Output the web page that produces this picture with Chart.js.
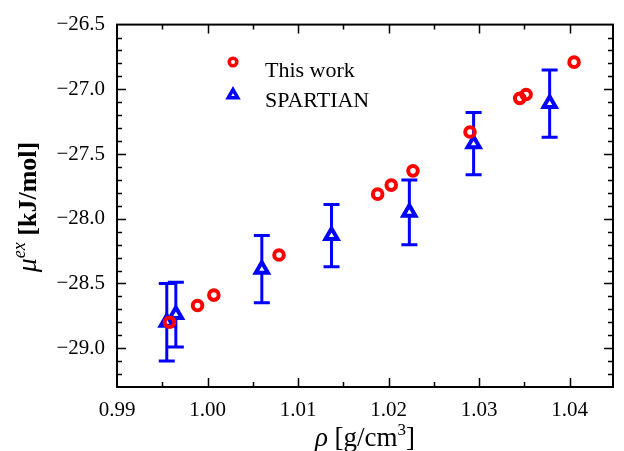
<!DOCTYPE html>
<html><head><meta charset="utf-8">
<script src="https://cdn.jsdelivr.net/npm/chart.js@4/dist/chart.umd.min.js"></script>
<style>html,body{margin:0;padding:0;background:#fff}#wrap{width:624px;height:451px;position:relative}</style>
</head><body><div id="wrap"><canvas id="c" width="624" height="451"></canvas></div>
<script>
// ---- data ----
const seriesNames = ['This work', 'SPARTIAN'];
const workX = [0.9958, 0.9989, 1.0007, 1.0079, 1.0188, 1.0203, 1.0227, 1.0290, 1.0345, 1.0352, 1.0405];
const workY = [-28.80, -28.67, -28.59, -28.28, -27.81, -27.74, -27.63, -27.33, -27.07, -27.04, -26.79];
const spartX = [0.9955, 0.9965, 1.0060, 1.0137, 1.0223, 1.0294, 1.0378];
const spartY = [-28.80, -28.74, -28.39, -28.13, -27.95, -27.42, -27.11];
const spartErr = [0.30, 0.25, 0.26, 0.24, 0.25, 0.24, 0.26];
const xTickLabels = [0.99, 1.00, 1.01, 1.02, 1.03, 1.04];
const yTickLabels = [-29.0, -28.5, -28.0, -27.5, -27.0, -26.5];
const xMinorStep = 0.005, yMinorStep = 0.1;

const SERIF = '"Liberation Serif", "DejaVu Serif", serif';
const RED = '#ff0000', BLUE = '#0000ff';

const ticksPlugin = {
  id: 'frameTicks',
  afterDraw(chart) {
    const ctx = chart.ctx, a = chart.chartArea, xs = chart.scales.x, ys = chart.scales.y;
    ctx.save();
    ctx.strokeStyle = '#000';
    ctx.lineWidth = 2;
    ctx.strokeRect(a.left, a.top, a.right - a.left, a.bottom - a.top);
    ctx.lineWidth = 1.5;
    for (let i = 0; ; i++) {
      const v = xs.min + i * xMinorStep;
      if (v > xs.max + 1e-9) break;
      const major = Math.abs(Math.round(v * 100) - v * 100) < 1e-6;
      const len = major ? 9 : 5;
      const px = Math.round(xs.getPixelForValue(v)) + 0.5;
      if (px <= a.left + 1 || px >= a.right - 1) continue;
      ctx.beginPath();
      ctx.moveTo(px, a.bottom); ctx.lineTo(px, a.bottom - len);
      ctx.moveTo(px, a.top); ctx.lineTo(px, a.top + len);
      ctx.stroke();
    }
    for (let i = 0; ; i++) {
      const v = ys.min + i * yMinorStep;
      if (v > ys.max + 1e-9) break;
      const major = Math.abs(Math.round(v * 2) - v * 2) < 1e-6;
      const len = major ? 9 : 5;
      const py = Math.round(ys.getPixelForValue(v)) + 0.5;
      if (py <= a.top + 1 || py >= a.bottom - 1) continue;
      ctx.beginPath();
      ctx.moveTo(a.left, py); ctx.lineTo(a.left + len, py);
      ctx.moveTo(a.right, py); ctx.lineTo(a.right - len, py);
      ctx.stroke();
    }
    ctx.restore();
  }
};

const errorBarPlugin = {
  id: 'errorBars',
  beforeDatasetsDraw(chart) {
    const ctx = chart.ctx, xs = chart.scales.x, ys = chart.scales.y;
    ctx.save();
    ctx.strokeStyle = BLUE;
    ctx.lineWidth = 3;
    const cap = 8;
    spartX.forEach((xv, i) => {
      const px = xs.getPixelForValue(xv);
      const top = ys.getPixelForValue(spartY[i] + spartErr[i]);
      const bot = ys.getPixelForValue(spartY[i] - spartErr[i]);
      ctx.beginPath();
      ctx.moveTo(px, top); ctx.lineTo(px, bot);
      ctx.moveTo(px - cap, top); ctx.lineTo(px + cap, top);
      ctx.moveTo(px - cap, bot); ctx.lineTo(px + cap, bot);
      ctx.stroke();
    });
    ctx.restore();
  }
};

function drawRich(ctx, parts, x, y, align) {
  let total = 0;
  parts.forEach(p => { ctx.font = p.font; p.w = ctx.measureText(p.t).width; total += p.w; });
  let cx = align === 'center' ? x - total / 2 : x;
  parts.forEach(p => {
    ctx.font = p.font;
    ctx.fillText(p.t, cx, y + (p.dy || 0));
    cx += p.w;
  });
}

const textPlugin = {
  id: 'texts',
  afterDraw(chart) {
    const ctx = chart.ctx, a = chart.chartArea;
    ctx.save();
    ctx.fillStyle = '#000';
    ctx.textBaseline = 'alphabetic';
    ctx.textAlign = 'left';
    // x title
    drawRich(ctx, [
      {t: 'ρ', font: 'italic 27px ' + SERIF},
      {t: ' [g/cm', font: '27px ' + SERIF},
      {t: '3', font: '17px ' + SERIF, dy: -11},
      {t: ']', font: '27px ' + SERIF}
    ], (a.left + a.right) / 2, 446, 'center');
    // y title
    ctx.save();
    ctx.translate(36, 207);
    ctx.rotate(-Math.PI / 2);
    drawRich(ctx, [
      {t: 'μ', font: 'italic 28px ' + SERIF},
      {t: 'ex', font: 'italic 18px ' + SERIF, dy: -11},
      {t: ' [kJ/mol]', font: 'bold 26px ' + SERIF}
    ], 0, 0, 'center');
    ctx.restore();
    // legend
    const lx = 233;
    ctx.lineWidth = 3.5;
    ctx.strokeStyle = RED;
    ctx.beginPath(); ctx.arc(lx, 62, 3.8, 0, Math.PI * 2); ctx.stroke();
    ctx.strokeStyle = BLUE;
    ctx.fillStyle = '#fff';
    ctx.lineJoin = 'miter';
    const r = 5.5, ty = 95;
    ctx.beginPath();
    ctx.moveTo(lx, ty - r);
    ctx.lineTo(lx + r * Math.cos(Math.PI / 6), ty + r / 2);
    ctx.lineTo(lx - r * Math.cos(Math.PI / 6), ty + r / 2);
    ctx.closePath(); ctx.fill(); ctx.stroke();
    ctx.fillStyle = '#000';
    ctx.font = '22px ' + SERIF;
    ctx.textBaseline = 'middle';
    ctx.fillText(seriesNames[0], 265, 71);
    ctx.fillText(seriesNames[1], 265, 101);
    ctx.restore();
  }
};

const fmtMinus = v => (v < 0 ? '\u2212' : '') + Math.abs(v).toFixed(1);

new Chart(document.getElementById('c'), {
  type: 'scatter',
  data: {
    datasets: [
      {
        label: seriesNames[0],
        data: workX.map((x, i) => ({x, y: workY[i]})),
        pointStyle: 'circle', pointRadius: 4.8, pointBorderWidth: 4,
        borderColor: RED, backgroundColor: 'rgba(255,255,255,0)',
        pointHoverRadius: 4.8
      },
      {
        label: seriesNames[1],
        data: spartX.map((x, i) => ({x, y: spartY[i]})),
        pointStyle: 'triangle', pointRadius: 7, pointBorderWidth: 4,
        borderColor: BLUE, backgroundColor: '#ffffff',
        pointHoverRadius: 7
      }
    ]
  },
  options: {
    responsive: false, animation: false, devicePixelRatio: 1,
    layout: {padding: {left: 0, top: 18, right: 7, bottom: 0}},
    plugins: {legend: {display: false}, tooltip: {enabled: false}},
    scales: {
      x: {
        type: 'linear', min: 0.99, max: 1.0448,
        afterBuildTicks: s => { s.ticks = xTickLabels.map(v => ({value: v})); },
        afterFit: s => { s.height = 64; },
        grid: {drawOnChartArea: false, drawTicks: false},
        border: {display: false},
        ticks: {color: '#000', font: {family: SERIF, size: 21}, padding: 11,
                autoSkip: false, maxRotation: 0, callback: v => v.toFixed(2)}
      },
      y: {
        type: 'linear', min: -29.3, max: -26.5,
        afterBuildTicks: s => { s.ticks = yTickLabels.map(v => ({value: v})); },
        afterFit: s => { s.width = 117; },
        grid: {drawOnChartArea: false, drawTicks: false},
        border: {display: false},
        ticks: {color: '#000', font: {family: SERIF, size: 21}, padding: 12,
                autoSkip: false, callback: fmtMinus}
      }
    }
  },
  plugins: [errorBarPlugin, ticksPlugin, textPlugin]
});
</script>
</body></html>
